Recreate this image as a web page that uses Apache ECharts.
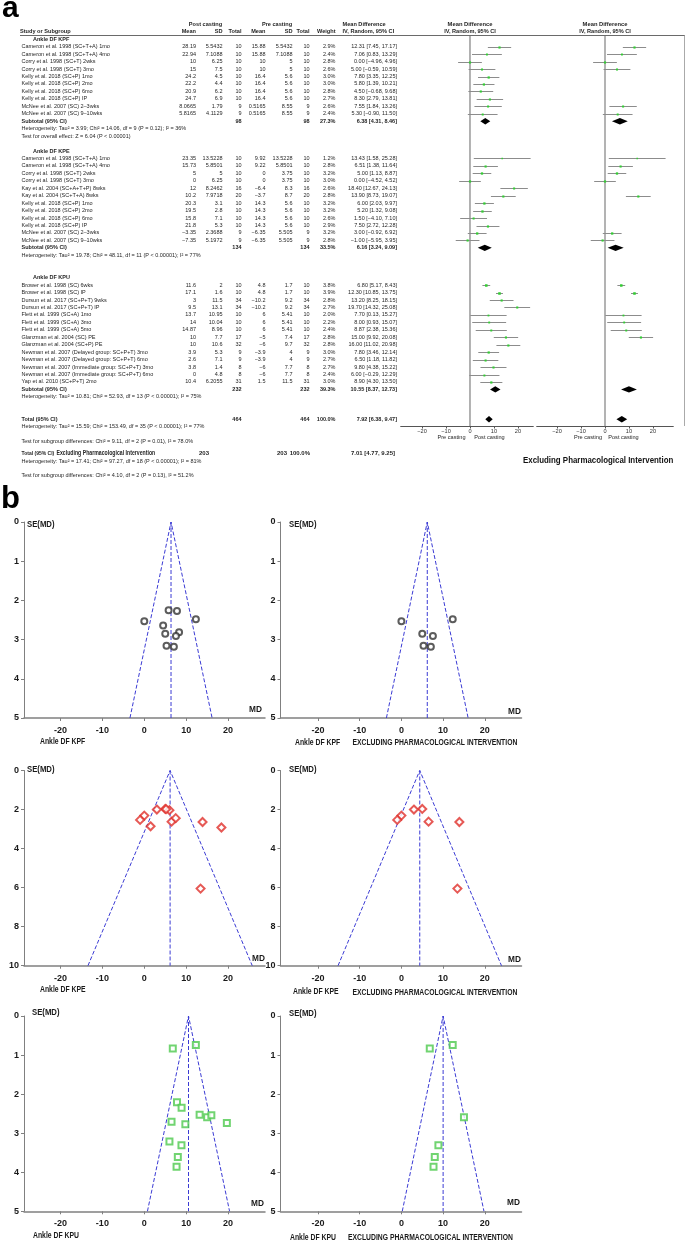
<!DOCTYPE html>
<html><head><meta charset="utf-8">
<script src="https://cdn.jsdelivr.net/npm/echarts@6/dist/echarts.min.js"></script>
<style>html,body{margin:0;padding:0;background:#fff}#c{width:685px;height:1244px}</style>
</head><body><div id="c"></div>
<script>
// ================= DATA =================
// Ankle DF KPF
const kpfStudy = ["Cameron et al. 1998 (SC+T+A) 1mo","Cameron et al. 1998 (SC+T+A) 4mo","Corry et al. 1998 (SC+T) 2wks","Corry et al. 1998 (SC+T) 3mo","Kelly et al. 2018 (SC+P) 1mo","Kelly et al. 2018 (SC+P) 2mo","Kelly et al. 2018 (SC+P) 6mo","Kelly et al. 2018 (SC+P) IP","McNee et al. 2007 (SC) 2–3wks","McNee et al. 2007 (SC) 9–10wks"];
const kpfPostMean = [28.19,22.94,10,15,24.2,22.2,20.9,24.7,8.0665,5.8165];
const kpfPostSD = [5.5432,7.1088,6.25,7.5,4.5,4.4,6.2,6.9,1.79,4.1129];
const kpfPostN = [10,10,10,10,10,10,10,10,9,9];
const kpfPreMean = [15.88,15.88,10,10,16.4,16.4,16.4,16.4,0.5165,0.5165];
const kpfPreSD = [5.5432,7.1088,5,5,5.6,5.6,5.6,5.6,8.55,8.55];
const kpfPreN = [10,10,10,10,10,10,10,10,9,9];
const kpfWeight = [2.9,2.4,2.8,2.6,3.0,3.0,2.8,2.7,2.6,2.4];
const kpfMD = [12.31,7.06,0.00,5.00,7.80,5.80,4.50,8.30,7.55,5.30];
const kpfLo = [7.45,0.83,-4.96,-0.59,3.35,1.39,-0.68,2.79,1.84,-0.90];
const kpfHi = [17.17,13.29,4.96,10.59,12.25,10.21,9.68,13.81,13.26,11.50];
const kpfSE = [2.48,3.18,2.53,2.85,2.27,2.25,2.64,2.81,2.91,3.16];

// Ankle DF KPE
const kpeStudy = ["Cameron et al. 1998 (SC+T+A) 1mo","Cameron et al. 1998 (SC+T+A) 4mo","Corry et al. 1998 (SC+T) 2wks","Corry et al. 1998 (SC+T) 3mo","Kay et al. 2004 (SC+A+T+P) 8wks","Kay et al. 2004 (SC+T+A) 8wks","Kelly et al. 2018 (SC+P) 1mo","Kelly et al. 2018 (SC+P) 2mo","Kelly et al. 2018 (SC+P) 6mo","Kelly et al. 2018 (SC+P) IP","McNee et al. 2007 (SC) 2–3wks","McNee et al. 2007 (SC) 9–10wks"];
const kpePostMean = [23.35,15.73,5,0,12,10.2,20.3,19.5,15.8,21.8,-3.35,-7.35];
const kpePostSD = [13.5228,5.8501,5,6.25,8.2462,7.9718,3.1,2.8,7.1,5.3,2.3688,5.1972];
const kpePostN = [10,10,10,10,16,20,10,10,10,10,9,9];
const kpePreMean = [9.92,9.22,0,0,-6.4,-3.7,14.3,14.3,14.3,14.3,-6.35,-6.35];
const kpePreSD = [13.5228,5.8501,3.75,3.75,8.3,8.7,5.6,5.6,5.6,5.6,5.505,5.505];
const kpePreN = [10,10,10,10,16,20,10,10,10,10,9,9];
const kpeWeight = [1.2,2.8,3.2,3.0,2.6,2.8,3.2,3.2,2.6,2.9,3.2,2.8];
const kpeMD = [13.43,6.51,5.00,0.00,18.40,13.90,6.00,5.20,1.50,7.50,3.00,-1.00];
const kpeLo = [1.58,1.38,1.13,-4.52,12.67,8.73,2.03,1.32,-4.10,2.72,-0.92,-5.95];
const kpeHi = [25.28,11.64,8.87,4.52,24.13,19.07,9.97,9.08,7.10,12.28,6.92,3.95];
const kpeSE = [6.05,2.62,1.97,2.31,2.92,2.64,2.03,1.98,2.86,2.44,2.00,2.53];

// Ankle DF KPU
const kpuStudy = ["Brower et al. 1998 (SC) 6wks","Brower et al. 1998 (SC) IP","Dursun et al. 2017 (SC+P+T) 9wks","Dursun et al. 2017 (SC+P+T) IP","Flett et al. 1999 (SC+A) 1mo","Flett et al. 1999 (SC+A) 3mo","Flett et al. 1999 (SC+A) 5mo","Glanzman et al. 2004 (SC) PE","Glanzman et al. 2004 (SC+P) PE","Newman et al. 2007 (Delayed group: SC+P+T) 3mo","Newman et al. 2007 (Delayed group: SC+P+T) 6mo","Newman et al. 2007 (Immediate group: SC+P+T) 3mo","Newman et al. 2007 (Immediate group: SC+P+T) 6mo","Yap et al. 2010 (SC+P+T) 2mo"];
const kpuPostMean = [11.6,17.1,3,9.5,13.7,14,14.87,10,10,3.9,2.6,3.8,0,10.4];
const kpuPostSD = [2,1.6,11.5,13.1,10.95,10.04,8.96,7.7,10.6,5.3,7.1,1.4,4.8,6.2055];
const kpuPostN = [10,10,34,34,10,10,10,17,32,9,9,8,8,31];
const kpuPreMean = [4.8,4.8,-10.2,-10.2,6,6,6,-5,-6,-3.9,-3.9,-6,-6,1.5];
const kpuPreSD = [1.7,1.7,9.2,9.2,5.41,5.41,5.41,7.4,9.7,4,4,7.7,7.7,11.5];
const kpuPreN = [10,10,34,34,10,10,10,17,32,9,9,8,8,31];
const kpuWeight = [3.8,3.9,2.8,2.7,2.0,2.2,2.4,2.8,2.8,3.0,2.7,2.7,2.4,3.0];
const kpuMD = [6.80,12.30,13.20,19.70,7.70,8.00,8.87,15.00,16.00,7.80,6.50,9.80,6.00,8.90];
const kpuLo = [5.17,10.85,8.25,14.32,0.13,0.93,2.38,9.92,11.02,3.46,1.18,4.38,-0.29,4.30];
const kpuHi = [8.43,13.75,18.15,25.08,15.27,15.07,15.36,20.08,20.98,12.14,11.82,15.22,12.29,13.50];
const kpuSE = [0.83,0.74,2.53,2.74,3.86,3.61,3.31,2.59,2.54,2.21,2.71,2.77,3.21,2.35];

// Subgroup summaries (all studies)
const subgroupTitle = ["Ankle DF KPF","Ankle DF KPE","Ankle DF KPU"];
const subtotalN = [98,134,232];
const subtotalWeight = [27.3,33.5,39.3];
const subtotalMD = [6.38,6.16,10.55];
const subtotalLo = [4.31,3.24,8.37];
const subtotalHi = [8.46,9.09,12.73];
// Subgroup summaries excluding pharmacological intervention (read from diamonds / funnels)
const exclMD = [6.2,4.4,10.0];
const exclLo = [2.9,1.1,6.7];
const exclHi = [9.5,7.8,13.3];
const subgroupHet = ["Heterogeneity: Tau² = 3.99; Chi² = 14.06, df = 9 (P = 0.12); I² = 36%","Heterogeneity: Tau² = 19.78; Chi² = 48.11, df = 11 (P < 0.00001); I² = 77%","Heterogeneity: Tau² = 10.81; Chi² = 52.93, df = 13 (P < 0.00001); I² = 75%"];
const kpfOverall = "Test for overall effect: Z = 6.04 (P < 0.00001)";
// Totals
const totalN = 464, totalMD = 7.92, totalLo = 6.38, totalHi = 9.47;
const totalHet = "Heterogeneity: Tau² = 15.59; Chi² = 153.49, df = 35 (P < 0.00001); I² = 77%";
const totalTest = "Test for subgroup differences: Chi² = 9.11, df = 2 (P = 0.01), I² = 78.0%";
const exclN = 203, exclTotMD = 7.01, exclTotLo = 4.77, exclTotHi = 9.25;
const exclHet = "Heterogeneity: Tau² = 17.41; Chi² = 97.27, df = 18 (P < 0.00001); I² = 81%";
const exclTest = "Test for subgroup differences: Chi² = 4.10, df = 2 (P = 0.13), I² = 51.2%";
// Axis ticks
const forestTicks = [-20,-10,0,10,20];
const funnelXTicks = [-20,-10,0,10,20];
const funnelMaxSE = [5,10,5];
const funnelYInterval = [1,2,1];

// ================= LAYOUT =================
const FONT = '"Liberation Sans", Arial, sans-serif';
const ROW0 = 46.7, STEP = 7.45;
const yL = L => ROW0 + STEP * L;
const firstLine = [0, 15, 32];
const COL = {name:21.5, head:33, pm:196, psd:222.5, pn:241.5, qm:265.5, qsd:292.5, qn:309.5, w:335.5, md:397};
const FOREST_TOP = 35, FOREST_BOT = 426;
const LMIN = (FOREST_TOP - ROW0)/STEP, LMAX = (FOREST_BOT - ROW0)/STEP;

const groups = [
  {study:kpfStudy,pm:kpfPostMean,psd:kpfPostSD,pn:kpfPostN,qm:kpfPreMean,qsd:kpfPreSD,qn:kpfPreN,w:kpfWeight,md:kpfMD,lo:kpfLo,hi:kpfHi,se:kpfSE},
  {study:kpeStudy,pm:kpePostMean,psd:kpePostSD,pn:kpePostN,qm:kpePreMean,qsd:kpePreSD,qn:kpePreN,w:kpeWeight,md:kpeMD,lo:kpeLo,hi:kpeHi,se:kpeSE},
  {study:kpuStudy,pm:kpuPostMean,psd:kpuPostSD,pn:kpuPostN,qm:kpuPreMean,qsd:kpuPreSD,qn:kpuPreN,w:kpuWeight,md:kpuMD,lo:kpuLo,hi:kpuHi,se:kpuSE}
];
const isPharm = name => /\+P/.test(name);
const num = v => String(v).replace('-', '−');
const f2 = v => v.toFixed(2).replace('-', '−');
const mdTxt = (m,l,h) => `${f2(m)} [${f2(l)}, ${f2(h)}]`;

function T(x, y, text, o) {
  o = o || {};
  const font = `${o.bold ? 'bold ' : ''}${o.size || 5.5}px ${o.family || FONT}`;
  const al = o.align || 'left';
  return {type:'text', x:x, y:y, silent:true, scaleX:o.sx || 1, z:10,
    style:{text:text, fill:o.color || '#262626', font:font, textAlign:al, align:al, textVerticalAlign:'middle', verticalAlign:'middle'}};
}

const G = [];
// panel letters
G.push(T(2, 9, 'a', {bold:true, size:30, color:'#000'}));
G.push(T(1, 499, 'b', {bold:true, size:31, color:'#000'}));
// headers
const H1 = 24, H2 = 31.5;
G.push(T(205.5, H1, 'Post casting', {bold:true, size:5.6, align:'center'}));
G.push(T(277, H1, 'Pre casting', {bold:true, size:5.6, align:'center'}));
G.push(T(342.5, H1, 'Mean Difference', {bold:true, size:5.6}));
G.push(T(470, H1, 'Mean Difference', {bold:true, size:5.8, align:'center'}));
G.push(T(605, H1, 'Mean Difference', {bold:true, size:5.8, align:'center'}));
G.push(T(20, H2, 'Study or Subgroup', {bold:true, size:5.6}));
[['Mean',COL.pm],['SD',COL.psd],['Total',COL.pn],['Mean',COL.qm],['SD',COL.qsd],['Total',COL.qn],['Weight',COL.w]].forEach(h => G.push(T(h[1], H2, h[0], {bold:true, size:5.6, align:'right'})));
G.push(T(342.5, H2, 'IV, Random, 95% CI', {bold:true, size:5.6}));
G.push(T(470, H2, 'IV, Random, 95% CI', {bold:true, size:5.6, align:'center'}));
G.push(T(605, H2, 'IV, Random, 95% CI', {bold:true, size:5.6, align:'center'}));
G.push({type:'line', z:10, silent:true, shape:{x1:20, y1:35.5, x2:685, y2:35.5}, style:{stroke:'#6a6a6a', lineWidth:1}});
G.push({type:'line', z:10, silent:true, shape:{x1:684.5, y1:35.5, x2:684.5, y2:426}, style:{stroke:'#aaaaaa', lineWidth:1}});

// table body
const ciAll = [], ciExcl = [], diaAll = [], diaExcl = [];
groups.forEach((g, gi) => {
  const f = firstLine[gi];
  G.push(T(COL.head, yL(f - 1), subgroupTitle[gi], {bold:true}));
  g.study.forEach((s, i) => {
    const y = yL(f + i);
    G.push(T(COL.name, y, s));
    G.push(T(COL.pm, y, num(g.pm[i]), {align:'right'}));
    G.push(T(COL.psd, y, num(g.psd[i]), {align:'right'}));
    G.push(T(COL.pn, y, num(g.pn[i]), {align:'right'}));
    G.push(T(COL.qm, y, num(g.qm[i]), {align:'right'}));
    G.push(T(COL.qsd, y, num(g.qsd[i]), {align:'right'}));
    G.push(T(COL.qn, y, num(g.qn[i]), {align:'right'}));
    G.push(T(COL.w, y, g.w[i].toFixed(1) + '%', {align:'right'}));
    G.push(T(COL.md, y, mdTxt(g.md[i], g.lo[i], g.hi[i]), {align:'right'}));
    ciAll.push([g.md[i], g.lo[i], g.hi[i], f + i, g.w[i]]);
    if (!isPharm(s)) ciExcl.push([g.md[i], g.lo[i], g.hi[i], f + i, g.w[i]]);
  });
  const n = g.study.length, ys = yL(f + n);
  G.push(T(COL.name, ys, 'Subtotal (95% CI)', {bold:true}));
  G.push(T(COL.pn, ys, String(subtotalN[gi]), {bold:true, align:'right'}));
  G.push(T(COL.qn, ys, String(subtotalN[gi]), {bold:true, align:'right'}));
  G.push(T(COL.w, ys, subtotalWeight[gi].toFixed(1) + '%', {bold:true, align:'right'}));
  G.push(T(COL.md, ys, mdTxt(subtotalMD[gi], subtotalLo[gi], subtotalHi[gi]), {bold:true, align:'right'}));
  G.push(T(COL.name, yL(f + n + 1), subgroupHet[gi]));
  if (gi === 0) G.push(T(COL.name, yL(f + n + 2), kpfOverall));
  diaAll.push([subtotalMD[gi], subtotalLo[gi], subtotalHi[gi], f + n]);
  diaExcl.push([exclMD[gi], exclLo[gi], exclHi[gi], f + n]);
});
// totals
const LT = 50;
G.push(T(COL.name, yL(LT), 'Total (95% CI)', {bold:true}));
G.push(T(COL.pn, yL(LT), String(totalN), {bold:true, align:'right'}));
G.push(T(COL.qn, yL(LT), String(totalN), {bold:true, align:'right'}));
G.push(T(COL.w, yL(LT), '100.0%', {bold:true, align:'right'}));
G.push(T(COL.md, yL(LT), mdTxt(totalMD, totalLo, totalHi), {bold:true, align:'right'}));
G.push(T(COL.name, yL(LT + 1), totalHet));
G.push(T(COL.name, yL(LT + 3), totalTest));
diaAll.push([totalMD, totalLo, totalHi, LT]);
diaExcl.push([exclTotMD, exclTotLo, exclTotHi, LT]);
const LX = 54.6;
G.push(T(COL.name, yL(LX), 'Total (95% CI)', {bold:true, size:5}));
G.push(T(56.5, yL(LX) - 0.5, 'Excluding Pharmacological Intervention', {bold:true, size:7, sx:0.74}));
G.push(T(209, yL(LX), String(exclN), {bold:true, size:6, align:'right'}));
G.push(T(287, yL(LX), String(exclN), {bold:true, size:6, align:'right'}));
G.push(T(310, yL(LX), '100.0%', {bold:true, size:6, align:'right'}));
G.push(T(395, yL(LX), mdTxt(exclTotMD, exclTotLo, exclTotHi), {bold:true, size:6, align:'right'}));
G.push(T(COL.name, yL(LX + 1.05), exclHet));
G.push(T(COL.name, yL(LX + 3), exclTest));
// forest axis captions
G.push(T(451.5, 437.5, 'Pre casting', {size:5.6, align:'center'}));
G.push(T(489.5, 437.5, 'Post casting', {size:5.6, align:'center'}));
G.push(T(588, 437.5, 'Pre casting', {size:5.6, align:'center'}));
G.push(T(623.5, 437.5, 'Post casting', {size:5.6, align:'center'}));
G.push(T(523, 460, 'Excluding Pharmacological Intervention', {bold:true, size:9.5, sx:0.83, color:'#111'}));

// ================= FUNNELS =================
const FR = [{top:522, h:196}, {top:770.5, h:195.2}, {top:1016, h:195.3}];
const FL = {left:24, width:241, min:-28.7, max:28.8};
const FRT = {left:280.5, width:241, min:-29, max:28.8};
const funnelName = ["Ankle DF KPF","Ankle DF KPE","Ankle DF KPU"];
const markerSym = ['emptyCircle','emptyDiamond','emptyRect'];
const markerCol = ['#333333','#e0302a','#4ec94e'];
const markerSize = [6,8,6];
const FT = {size:9, bold:true, color:'#1a1a1a'};
const funnelLabelPos = [
  {se:[[27,525],[289,525]], md:[[249,710],[508,712]], nm:[[40,742],[295,743]], ex:[352.5,743]},
  {se:[[27,770],[289,770]], md:[[252,959],[508,960]], nm:[[40,990],[293,992]], ex:[352.5,993]},
  {se:[[32,1013],[289,1014]], md:[[251,1204],[507,1203]], nm:[[33,1236],[290,1238]], ex:[348,1238]}
];
funnelLabelPos.forEach((p, r) => {
  [0,1].forEach(c => {
    G.push(T(p.se[c][0], p.se[c][1], 'SE(MD)', Object.assign({sx:0.86}, FT)));
    G.push(T(p.md[c][0], p.md[c][1], 'MD', Object.assign({sx:0.92}, FT)));
    G.push(T(p.nm[c][0], p.nm[c][1], funnelName[r], Object.assign({sx:0.76}, FT)));
  });
  G.push(T(p.ex[0], p.ex[1], 'EXCLUDING PHARMACOLOGICAL INTERVENTION', Object.assign({sx:0.755}, FT)));
});

// ================= OPTION =================
const grids = [
  {left:400.7, width:132.6, top:FOREST_TOP, height:FOREST_BOT - FOREST_TOP},
  {left:536.7, width:136.6, top:FOREST_TOP, height:FOREST_BOT - FOREST_TOP}
];
const xAxes = [], yAxes = [], series = [];
const fx = (gi, min, max) => ({gridIndex:gi, type:'value', min:min, max:max,
  axisLine:{show:true, onZero:false, lineStyle:{color:'#555', width:1}},
  axisTick:{show:true, length:2.5, customValues:forestTicks, lineStyle:{color:'#555'}},
  axisLabel:{customValues:forestTicks, fontSize:5.6, color:'#333', margin:2.5, fontFamily:FONT, formatter:v => String(v).replace('-', '−')},
  splitLine:{show:false}});
xAxes.push(fx(0, -28.9, 26.4), fx(1, -28.5, 28.5));
yAxes.push({gridIndex:0, type:'value', inverse:true, min:LMIN, max:LMAX, show:false},
           {gridIndex:1, type:'value', inverse:true, min:LMIN, max:LMAX, show:false});

function ciRender(params, api) {
  const L = api.value(3);
  const a = api.coord([api.value(1), L]), b = api.coord([api.value(2), L]), m = api.coord([api.value(0), L]);
  const yy = Math.round(a[1]) + 0.5;
  const s = 1 + api.value(4) * 0.4;
  return {type:'group', children:[
    {type:'line', shape:{x1:a[0], y1:yy, x2:b[0], y2:yy}, style:{stroke:'#8c8c8c', lineWidth:1}},
    {type:'rect', shape:{x:m[0] - s/2, y:yy - s/2, width:s, height:s}, style:{fill:'#33cc33'}}
  ]};
}
function diaRender(params, api) {
  const L = api.value(3);
  const a = api.coord([api.value(1), L]), b = api.coord([api.value(2), L]), m = api.coord([api.value(0), L]);
  const h = 3.2;
  return {type:'polygon', shape:{points:[[a[0], a[1]], [m[0], m[1] - h], [b[0], b[1]], [m[0], m[1] + h]]}, style:{fill:'#000'}};
}
[[0, ciAll, diaAll, '#666', 1], [1, ciExcl, diaExcl, '#b3b3b3', 2]].forEach(d => {
  series.push({type:'line', xAxisIndex:d[0], yAxisIndex:d[0], data:[[0, LMIN], [0, LMAX]], symbol:'none', silent:true,
    lineStyle:{color:d[3], width:d[4]}, z:1});
  series.push({type:'custom', xAxisIndex:d[0], yAxisIndex:d[0], data:d[1], encode:{x:[0,1,2], y:3}, renderItem:ciRender, silent:true, z:2});
  series.push({type:'custom', xAxisIndex:d[0], yAxisIndex:d[0], data:d[2], encode:{x:[0,1,2], y:3}, renderItem:diaRender, silent:true, z:3});
});

FR.forEach((row, r) => {
  const g = groups[r];
  [[FL, subtotalMD[r], g.md.map((m, i) => [m, g.se[i]])],
   [FRT, exclMD[r], g.md.map((m, i) => [m, g.se[i]]).filter((p, i) => !isPharm(g.study[i]))]].forEach((cfg, c) => {
    const gi = grids.length;
    const X = cfg[0];
    grids.push({left:X.left, width:X.width, top:row.top, height:row.h});
    xAxes.push({gridIndex:gi, type:'value', min:X.min, max:X.max,
      axisLine:{show:true, onZero:false, lineStyle:{color:'#808080', width:1.5}},
      axisTick:{show:true, length:3, customValues:funnelXTicks, lineStyle:{color:'#808080'}},
      axisLabel:{customValues:funnelXTicks, fontSize:9, fontWeight:'bold', color:'#1a1a1a', margin:8, fontFamily:FONT},
      splitLine:{show:false}});
    yAxes.push({gridIndex:gi, type:'value', inverse:true, min:0, max:funnelMaxSE[r], interval:funnelYInterval[r],
      axisLine:{show:true, onZero:false, lineStyle:{color:'#808080', width:1}},
      axisTick:{show:true, length:3, lineStyle:{color:'#808080'}},
      axisLabel:{fontSize:9, fontWeight:'bold', color:'#1a1a1a', margin:5, fontFamily:FONT},
      splitLine:{show:false}});
    const M = cfg[1], S = funnelMaxSE[r];
    const ls = {color:'#3b3bd4', width:1, type:[4,2]};
    series.push({type:'line', xAxisIndex:gi, yAxisIndex:gi, data:[[M - 1.96*S, S], [M, 0], [M + 1.96*S, S]], symbol:'none', silent:true, lineStyle:ls, z:2});
    series.push({type:'line', xAxisIndex:gi, yAxisIndex:gi, data:[[M, 0], [M, S]], symbol:'none', silent:true, lineStyle:ls, z:2});
    series.push({type:'scatter', xAxisIndex:gi, yAxisIndex:gi, data:cfg[2], symbol:markerSym[r], symbolSize:markerSize[r], silent:true,
      itemStyle:{color:markerCol[r], borderColor:markerCol[r], borderWidth:0.9}, z:3});
  });
});

grids.forEach(g => { g.containLabel = false; g.outerBoundsMode = 'none'; });

const chart = echarts.init(document.getElementById('c'), null, {renderer:'canvas', width:685, height:1244});
chart.setOption({
  animation:false,
  backgroundColor:'#ffffff',
  grid:grids, xAxis:xAxes, yAxis:yAxes, series:series,
  graphic:{elements:G}
});
</script>
</body></html>
